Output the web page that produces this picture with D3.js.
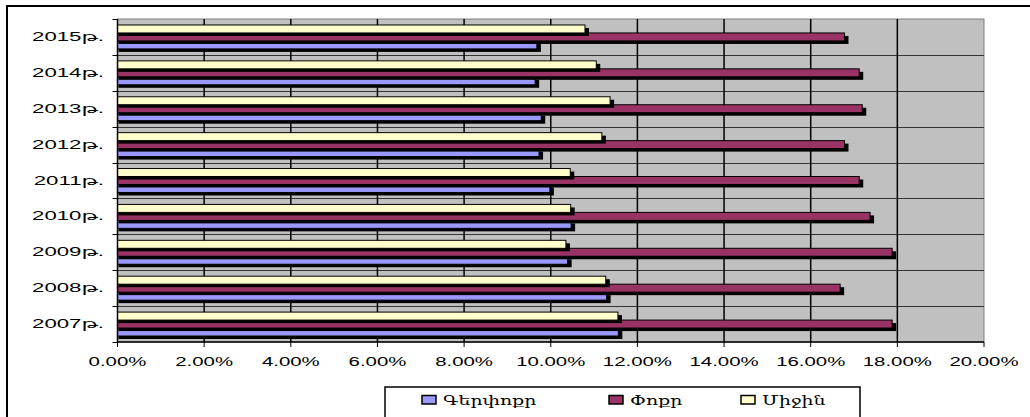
<!DOCTYPE html>
<html><head><meta charset="utf-8">
<script src="https://cdn.jsdelivr.net/npm/d3@7"></script>
<style>body{margin:0;background:#fff}svg{display:block}</style>
</head><body>
<svg id="c" width="1030" height="417"></svg>
<script>
// data
const years = ["2007թ.","2008թ.","2009թ.","2010թ.","2011թ.","2012թ.","2013թ.","2014թ.","2015թ."];
const gerpokr = [11.56, 11.29, 10.39, 10.47, 9.98, 9.73, 9.78, 9.64, 9.68];
const pokr    = [17.88, 16.68, 17.88, 17.37, 17.12, 16.78, 17.19, 17.12, 16.78];
const mijin   = [11.55, 11.27, 10.35, 10.46, 10.45, 11.18, 11.37, 11.05, 10.79];
const seriesNames = ["Գերփոքր","Փոքր","Միջին"];
const xTicks = [0,2,4,6,8,10,12,14,16,18,20];
const xTickLabels = ["0.00%","2.00%","4.00%","6.00%","8.00%","10.00%","12.00%","14.00%","16.00%","18.00%","20.00%"];

const colors = ["#9999FF","#993366","#FFFFCC"];
const SX = 1.7;
const svg = d3.select("#c");

// outer frame
svg.append("rect").attr("x",7).attr("y",6).attr("width",1200).attr("height",600)
  .attr("fill","none").attr("stroke","#000").attr("stroke-width",2);

const L=117.5, R=984, T=19, B=342;
const x = d3.scaleLinear().domain([0,20]).range([L,R]);
const y = d3.scaleBand().domain(years.slice().reverse()).range([T,B]).paddingInner(0).paddingOuter(0);
const sub = d3.scaleBand().domain(["Միջին","Փոքր","Գերփոքր"]).range([0,y.bandwidth()]).paddingInner(0).paddingOuter(0.75);

// plot area
svg.append("rect").attr("x",L).attr("y",T).attr("width",R-L).attr("height",B-T)
  .attr("fill","#C0C0C0").attr("stroke","#808080").attr("stroke-width",1);

// horizontal category lines
const bounds = years.map(d=>y(d)).concat([B]);
svg.append("g").selectAll("line").data(bounds.filter(v=>v>T+1 && v<B-1)).join("line")
  .attr("x1",L).attr("x2",R).attr("y1",d=>Math.round(d)+0.5).attr("y2",d=>Math.round(d)+0.5)
  .attr("stroke","#333").attr("stroke-width",1);

// vertical gridlines
svg.append("g").selectAll("line").data(xTicks.filter(v=>v>0 && v<20)).join("line")
  .attr("x1",d=>x(d)).attr("x2",d=>x(d)).attr("y1",T).attr("y2",B)
  .attr("stroke","#000").attr("stroke-width",1.5);

// bars
const series = [gerpokr, pokr, mijin];
series.forEach((vals,si)=>{
  const g = svg.append("g");
  const data = years.map((yr,i)=>({yr, v:vals[i]}));
  g.selectAll("rect.sh").data(data).join("rect").attr("class","sh")
    .attr("x",x(0)+1).attr("y",d=>y(d.yr)+sub(seriesNames[si])+3)
    .attr("width",d=>x(d.v)-x(0)+3).attr("height",sub.bandwidth())
    .attr("fill","#000");
  g.selectAll("rect.b").data(data).join("rect").attr("class","b")
    .attr("x",x(0)).attr("y",d=>y(d.yr)+sub(seriesNames[si]))
    .attr("width",d=>x(d.v)-x(0)).attr("height",sub.bandwidth())
    .attr("fill",colors[si]).attr("stroke","#000").attr("stroke-width",1);
});

// left axis
svg.append("line").attr("x1",L).attr("x2",L).attr("y1",T).attr("y2",B).attr("stroke","#000").attr("stroke-width",1.5);
svg.append("g").selectAll("line").data(bounds).join("line")
  .attr("x1",L-5).attr("x2",L).attr("y1",d=>Math.round(d)+0.5).attr("y2",d=>Math.round(d)+0.5)
  .attr("stroke","#000").attr("stroke-width",1);
// bottom axis
svg.append("line").attr("x1",L).attr("x2",R).attr("y1",B).attr("y2",B).attr("stroke","#000").attr("stroke-width",1.5);
svg.append("g").selectAll("line").data(xTicks).join("line")
  .attr("x1",d=>x(d)).attr("x2",d=>x(d)).attr("y1",B).attr("y2",B+5)
  .attr("stroke","#000").attr("stroke-width",1);

// y labels
svg.append("g").selectAll("text").data(years).join("text")
  .attr("transform",d=>`translate(104,${y(d)+y.bandwidth()/2+4}) scale(1.85,1)`)
  .attr("text-anchor","end").attr("font-family","Liberation Sans, Arial, DejaVu Sans").attr("font-size",12)
  .text(d=>d);

// x labels
svg.append("g").selectAll("text").data(xTicks).join("text")
  .attr("transform",d=>`translate(${x(d)},366) scale(${SX},1)`)
  .attr("text-anchor","middle").attr("font-family","Liberation Sans, Arial").attr("font-size",12)
  .text((d,i)=>xTickLabels[i]);

// legend
svg.append("rect").attr("x",385).attr("y",387).attr("width",475).attr("height",60)
  .attr("fill","#fff").attr("stroke","#000").attr("stroke-width",1.5);
const legX = [422, 609, 741];
seriesNames.forEach((n,i)=>{
  svg.append("rect").attr("x",legX[i]).attr("y",395.5).attr("width",14).attr("height",8.5)
    .attr("fill",colors[i]).attr("stroke","#000").attr("stroke-width",1.5);
  svg.append("text").attr("transform",`translate(${legX[i]+21},405) scale(1.45,1)`)
    .attr("font-family","DejaVu Serif, serif").attr("font-size",13).text(n);
});
</script>
</body></html>
